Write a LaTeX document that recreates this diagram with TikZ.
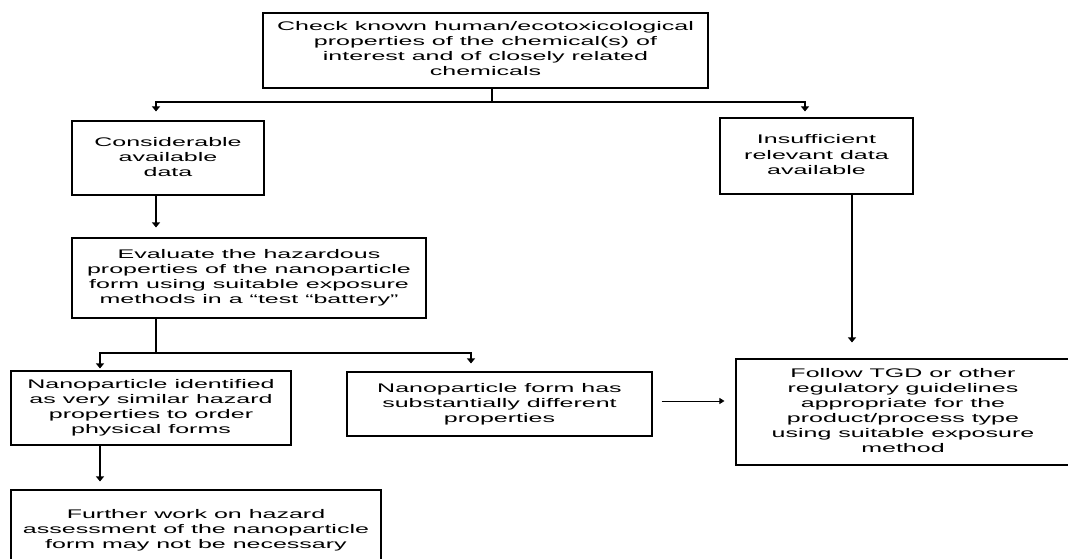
\documentclass[tikz,border=0pt]{standalone}
\usepackage{fontspec}
\setmainfont{Liberation Sans}
\usetikzlibrary{arrows.meta,calc}
\newcommand{\wtext}[1]{\scalebox{2}[1]{\begin{tabular}{@{}c@{}}#1\end{tabular}}}
\tikzset{
  box/.style={draw, line width=1.1pt, inner sep=0pt, font=\fontsize{12.5}{15}\selectfont},
  arr/.style={line width=1.1pt, -{Triangle[length=5pt,width=8pt]}},
  thinarr/.style={line width=0.8pt, -{Triangle[length=5pt,width=6pt]}},
  ln/.style={line width=1.1pt}
}
\begin{document}
\begin{tikzpicture}[x=1pt,y=-1pt]
\clip (0,0) rectangle (1068,559);
\fill[white] (0,0) rectangle (1068,559);

\node[box, minimum width=445pt, minimum height=75pt] (top) at (485.5,50.5)
  {\wtext{Check known human/ecotoxicological\\properties of the chemical(s) of\\interest and of closely related\\chemicals}};
\node[box, minimum width=192pt, minimum height=74pt] (cons) at (168,158)
  {\wtext{Considerable\\available\\data}};
\node[box, minimum width=193pt, minimum height=76pt] (insuf) at (816.5,156)
  {\wtext{Insufficient\\relevant data\\available}};
\node[box, minimum width=354pt, minimum height=80pt] (eval) at (249,278)
  {\wtext{Evaluate the hazardous\\properties of the nanoparticle\\form using suitable exposure\\methods in a ``test ``battery''}};
\node[box, minimum width=280pt, minimum height=74pt] (ident) at (151,408)
  {\wtext{Nanoparticle identified\\as very similar hazard\\properties to order\\physical forms}};
\node[box, minimum width=305pt, minimum height=64pt] (form) at (499.5,404)
  {\wtext{Nanoparticle form has\\substantially different\\properties}};
\node[box, minimum width=334pt, minimum height=106pt] (follow) at (903,412)
  {\wtext{Follow TGD or other\\regulatory guidelines\\appropriate for the\\product/process type\\using suitable exposure\\method}};
\node[box, minimum width=370pt, minimum height=80pt] (further) at (196,530)
  {\wtext{Further work on hazard\\assessment of the nanoparticle\\form may not be necessary}};

% junctions
\coordinate (t0) at (492,102);
\coordinate (tl) at (156,102);
\coordinate (tr) at (805,102);
\coordinate (e0) at (156,353);
\coordinate (el) at (100,353);
\coordinate (er) at (471,353);
\coordinate (h) at (0,401);
\coordinate (v) at (852,0);

\draw[ln] (t0 |- top.south) -- (t0);
\draw[arr, shorten >=9pt] (t0) -- (tl) -- (tl |- cons.north);
\draw[arr, shorten >=6pt] (t0) -- (tr) -- (tr |- insuf.north);
\draw[arr, shorten >=10pt] (tl |- cons.south) -- (tl |- eval.north);
\draw[ln] (e0 |- eval.south) -- (e0);
\draw[arr, shorten >=2pt] (e0) -- (el) -- (el |- ident.north);
\draw[arr, shorten >=8pt] (e0) -- (er) -- (er |- form.north);
\draw[arr, shorten >=8pt] (el |- ident.south) -- (el |- further.north);
\draw[thinarr, shorten <=9pt, shorten >=11pt] (form.east |- h) -- (follow.west |- h);
\draw[arr, shorten >=16pt] (v |- insuf.south) -- (v |- follow.north);
\end{tikzpicture}
\end{document}
